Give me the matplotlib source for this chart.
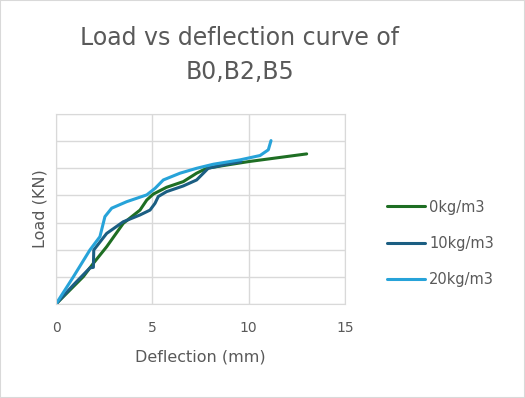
import matplotlib
matplotlib.use('Agg')
import matplotlib.pyplot as plt

# Load vs deflection data
x_b0 = [0, 1.42, 1.94, 2.63, 3.49, 4.36, 4.71, 5.05, 5.74, 6.61, 7.30, 7.82, 8.86, 10.03, 13.01]
y_b0 = [0, 10.1, 15.0, 21.1, 29.7, 34.6, 38.3, 40.5, 43.0, 45.1, 48.2, 50.0, 51.2, 52.5, 55.3]

x_b2 = [0, 0.90, 1.76, 1.94, 1.96, 2.63, 3.49, 4.36, 4.88, 5.14, 5.31, 5.74, 6.61, 7.30, 7.65, 7.90, 8.80, 9.60]
y_b2 = [0, 7.0, 13.3, 13.5, 19.9, 26.0, 30.3, 32.8, 34.6, 37.1, 39.6, 41.4, 43.5, 45.7, 48.2, 50.0, 51.4, 52.4]

x_b5 = [0, 0.90, 1.76, 2.28, 2.54, 2.89, 3.67, 4.71, 5.14, 5.57, 6.44, 7.30, 8.17, 9.55, 10.59, 11.02, 11.16]
y_b5 = [0, 10.0, 19.9, 24.8, 32.2, 35.3, 37.7, 40.2, 42.6, 45.7, 48.2, 50.0, 51.5, 53.1, 54.7, 56.8, 60.2]

labels = ["0kg/m3", "10kg/m3", "20kg/m3"]
colors = ["#1e6e23", "#1b5e82", "#27a3d9"]
xticks = [0, 5, 10, 15]

fig = plt.figure(figsize=(5.25, 3.98), dpi=100)
ax = fig.add_axes([56/525, 1 - 304/398, 289/525, 190/398])

for xs, ys, c, lab in zip([x_b0, x_b2, x_b5], [y_b0, y_b2, y_b5], colors, labels):
    ax.plot(xs, ys, color=c, linewidth=2.2, label=lab, solid_capstyle='round',
            solid_joinstyle='round')

ax.set_xlim(0, 15)
ax.set_ylim(0, 70)
ax.set_xticks(xticks)
ax.set_yticks(range(0, 71, 10))
ax.set_yticklabels([])
ax.tick_params(length=0, labelsize=10, labelcolor="#595959", pad=12)
ax.grid(color="#d9d9d9", linewidth=1)
ax.set_axisbelow(True)
for s in ax.spines.values():
    s.set_color("#d9d9d9")

ax.set_xlabel("Deflection (mm)", fontsize=11.5, color="#595959", labelpad=11)
ax.set_ylabel("Load (KN)", fontsize=11.5, color="#595959", labelpad=-6)

fig.text(240/525, 1 - 55/398, "Load vs deflection curve of\nB0,B2,B5", ha='center', va='center',
         fontsize=17, color="#595959", linespacing=1.55)

ax.legend(loc='center left', bbox_to_anchor=(1.1, 0.32), frameon=False, fontsize=10.5,
          labelcolor="#595959", handlelength=2.6, handletextpad=0.3, labelspacing=1.45)

fig.patches.append(plt.Rectangle((0, 0), 1, 1, transform=fig.transFigure, fill=False,
                                 edgecolor="#d9d9d9", linewidth=1.5))

plt.savefig("out.png", dpi=100)
plt.close()
